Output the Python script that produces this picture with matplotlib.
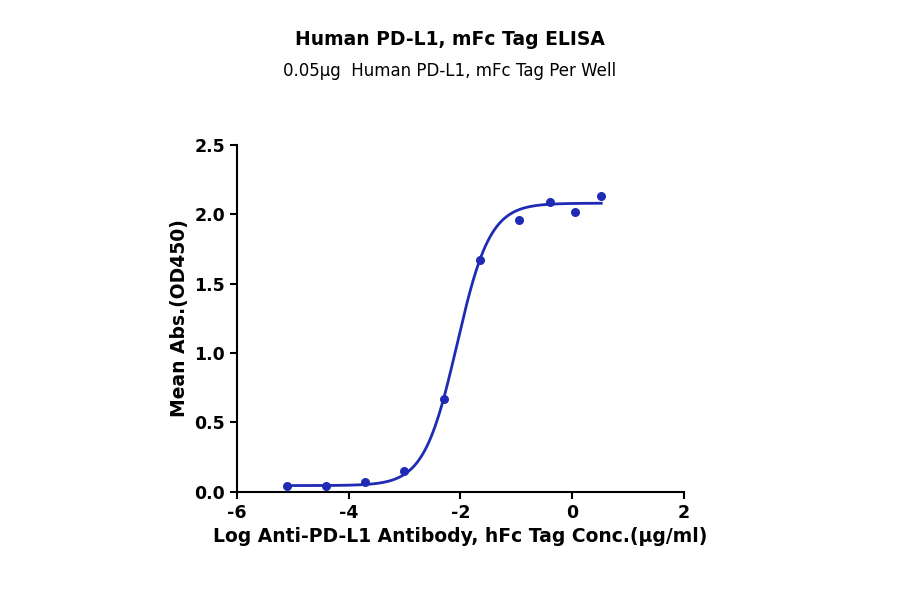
import numpy as np
import matplotlib
matplotlib.use('Agg')
import matplotlib.pyplot as plt

# measured points (log conc, OD450)
log_conc = [-5.1, -4.4, -3.7, -3.0, -2.3, -1.65, -0.95, -0.4, 0.05, 0.52]
od450 = [0.04, 0.04, 0.07, 0.15, 0.67, 1.67, 1.96, 2.09, 2.02, 2.13]

# 4PL fit parameters
fit_bottom = 0.045
fit_top = 2.08
fit_logec50 = -2.06
fit_hill = 1.47

color = '#1f2bb5'

fig = plt.figure(figsize=(9, 5.94), dpi=100)
ax = fig.add_axes([0.263, 0.172, 0.497, 0.584])

xs = np.linspace(min(log_conc), max(log_conc), 300)
ys = fit_bottom + (fit_top - fit_bottom) / (1 + 10 ** ((fit_logec50 - xs) * fit_hill))
ax.plot(xs, ys, color=color, lw=2)
ax.scatter(log_conc, od450, color=color, s=30, zorder=3)

ax.set_xlim(-6, 2)
ax.set_ylim(0, 2.5)
ax.set_xticks([-6, -4, -2, 0, 2])
ax.set_xticklabels(['-6', '-4', '-2', '0', '2'])
ax.set_yticks([0, 0.5, 1.0, 1.5, 2.0, 2.5])
ax.set_yticklabels(['0.0', '0.5', '1.0', '1.5', '2.0', '2.5'])
for s in ['top', 'right']:
    ax.spines[s].set_visible(False)
for s in ['left', 'bottom']:
    ax.spines[s].set_linewidth(1.5)
ax.tick_params(width=1.5, length=5, labelsize=12.5)
for lab in ax.get_xticklabels() + ax.get_yticklabels():
    lab.set_fontweight('bold')

ax.set_xlabel('Log Anti-PD-L1 Antibody, hFc Tag Conc.(μg/ml)', fontsize=13.5, fontweight='bold')
ax.set_ylabel('Mean Abs.(OD450)', fontsize=13.5, fontweight='bold')

fig.text(0.5, 0.925, 'Human PD-L1, mFc Tag ELISA', ha='center', fontsize=13.5, fontweight='bold')
fig.text(0.5, 0.872, '0.05μg  Human PD-L1, mFc Tag Per Well', ha='center', fontsize=12)

fig.savefig('out.png', dpi=100)
